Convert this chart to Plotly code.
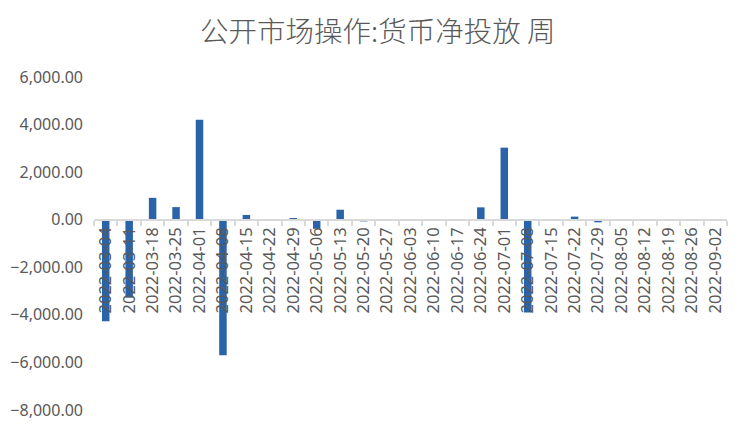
import plotly.graph_objects as go

# weekly dates and net injection values
weeks = ['2022-03-04', '2022-03-11', '2022-03-18', '2022-03-25', '2022-04-01', '2022-04-08',
         '2022-04-15', '2022-04-22', '2022-04-29', '2022-05-06', '2022-05-13', '2022-05-20',
         '2022-05-27', '2022-06-03', '2022-06-10', '2022-06-17', '2022-06-24', '2022-07-01',
         '2022-07-08', '2022-07-15', '2022-07-22', '2022-07-29', '2022-08-05', '2022-08-12',
         '2022-08-19', '2022-08-26', '2022-09-02']
net_injection = [-4270, -3280, 920, 530, 4200, -5700,
                 200, -50, 60, -380, 420, -70,
                 0, 0, 0, 0, 520, 3030,
                 -3900, 0, 130, -110, 0, 0,
                 0, 0, 0]

y_min, y_max = -8000, 6000
y_ticks = [-8000, -6000, -4000, -2000, 0, 2000, 4000, 6000]

grey = '#595959'
fnt = 'Noto Sans, Noto Sans CJK SC, sans-serif'

fig = go.Figure()
fig.add_trace(go.Bar(x=weeks, y=net_injection, marker_color='#2b63a9', marker_line_width=0))

fig.update_layout(
    width=750, height=432,
    margin=dict(l=86, r=31, t=69, b=30),
    paper_bgcolor='white', plot_bgcolor='white',
    bargap=0.68,
    showlegend=False,
    title=dict(text='公开市场操作:货币净投放 周', x=0.493, xanchor='center', y=0.944, yanchor='middle',
               font=dict(family='Noto Sans CJK SC', size=28.5, color=grey, weight=300)),
    font=dict(family=fnt, color=grey),
)
fig.update_xaxes(
    type='category', anchor='free', position=(0 - y_min) / (y_max - y_min),
    showline=True, linecolor='#d9d9d9', linewidth=2,
    ticks='outside', tickson='boundaries', ticklen=5, tickcolor='#d9d9d9', tickwidth=2,
    tickangle=-90, tickfont=dict(size=16.5, color=grey), showgrid=False, automargin=False,
)
fig.update_yaxes(
    range=[y_min, y_max], tickvals=y_ticks, tickformat=',.2f',
    showgrid=False, zeroline=False, showline=False, automargin=False,
    ticklabelstandoff=10, tickfont=dict(size=16, color=grey),
)

fig.write_html("out.html")
